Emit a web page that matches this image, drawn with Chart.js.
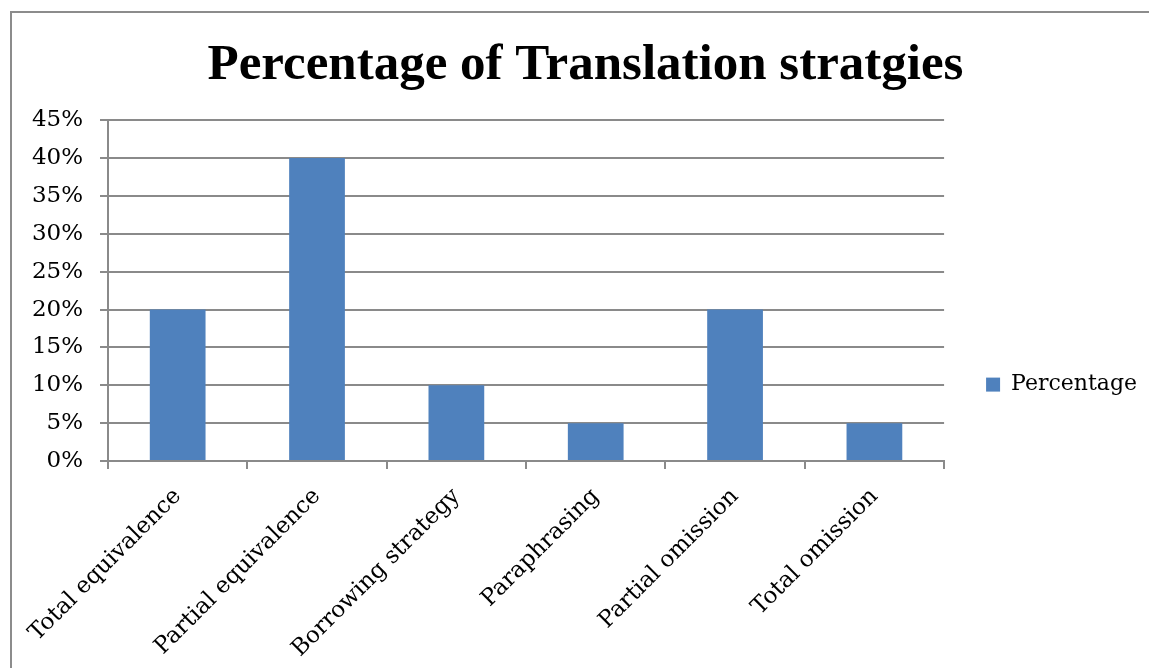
<!DOCTYPE html>
<html lang="en">
<head>
    <meta charset="UTF-8">
    <script src="https://cdn.jsdelivr.net/npm/chart.js"></script>
    <title>Percentage of Translation stratgies</title>
    <style>
        body { margin: 0; background: #fff; }
        #wrap { position: relative; width: 1149px; height: 668px; overflow: hidden; }
        #frame { position: absolute; left: 10px; top: 11px; width: 1200px; height: 700px; border: 2px solid #8c8c8c; }
        canvas { position: absolute; left: 0; top: 0; }
    </style>
</head>
<body>
    <div id="wrap">
        <div id="frame"></div>
        <canvas id="chart" width="1149" height="668"></canvas>
    </div>

    <script>
    const categories = ['Total equivalence', 'Partial equivalence', 'Borrowing strategy', 'Paraphrasing', 'Partial omission', 'Total omission'];
    const percentages = [20, 40, 10, 5, 20, 5];
    const yTicks = [0, 5, 10, 15, 20, 25, 30, 35, 40, 45];

    const serif = 'DejaVu Serif';
    const gray = '#8a8a8a';

    new Chart(document.getElementById('chart'), {
        type: 'bar',
        data: {
            labels: categories,
            datasets: [{
                label: 'Percentage',
                data: percentages,
                backgroundColor: '#4f81bd',
                borderWidth: 0,
                categoryPercentage: 1,
                barPercentage: 0.4
            }]
        },
        options: {
            responsive: false,
            animation: false,
            layout: { padding: { left: 24, right: 2, bottom: 0 } },
            plugins: {
                tooltip: { enabled: false },
                title: {
                    display: true,
                    text: 'Percentage of Translation stratgies',
                    color: '#000',
                    font: { family: 'Liberation Serif', size: 51, weight: 'bold', lineHeight: 1.2 },
                    padding: { top: 35, bottom: 24 }
                },
                legend: {
                    position: 'right',
                    // empty legend title only pushes the single item down
                    title: { display: true, text: ' ', font: { size: 1 }, padding: { top: 100, bottom: 0 } },
                    labels: {
                        color: '#000',
                        boxWidth: 14,
                        boxHeight: 14,
                        padding: 42,
                        font: { family: serif, size: 22 }
                    }
                }
            },
            scales: {
                x: {
                    grid: { display: true, drawOnChartArea: false, color: gray, tickLength: 8, lineWidth: 2 },
                    border: { color: gray, width: 2 },
                    ticks: {
                        color: '#000',
                        font: { family: serif, size: 23 },
                        minRotation: 45,
                        maxRotation: 45,
                        autoSkip: false,
                        padding: 14
                    },
                    afterFit: (s) => { s.height = 207; }
                },
                y: {
                    min: 0,
                    max: 45,
                    afterBuildTicks: (s) => { s.ticks = yTicks.map(v => ({ value: v })); },
                    grid: { color: gray, tickLength: 8, lineWidth: 2 },
                    border: { color: gray, width: 2 },
                    ticks: {
                        color: '#000',
                        font: { family: serif, size: 23 },
                        padding: 17,
                        callback: (v) => v + '%'
                    },
                    afterFit: (s) => { s.width = 84; }
                }
            }
        }
    });
    </script>
</body>
</html>
